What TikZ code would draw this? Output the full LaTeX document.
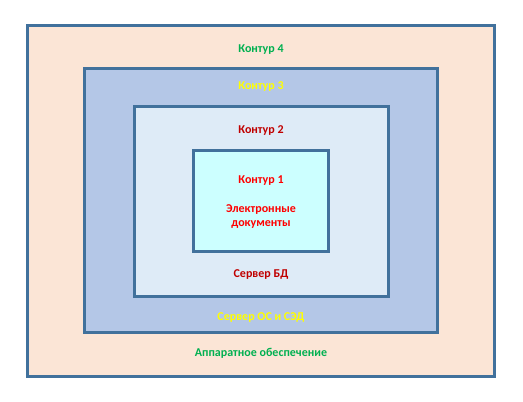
\documentclass[tikz,border=0pt]{standalone}
\usepackage{fontspec}
\setmainfont{Carlito}
\definecolor{bordc}{HTML}{41719C}
\definecolor{fillA}{HTML}{FBE5D6}
\definecolor{fillB}{HTML}{B4C7E7}
\definecolor{fillC}{HTML}{DEEBF7}
\definecolor{fillD}{HTML}{CCFFFF}
\definecolor{tgreen}{HTML}{00B050}
\definecolor{tyellow}{HTML}{FFFF00}
\definecolor{tdred}{HTML}{C00000}
\definecolor{tred}{HTML}{FF0000}
\tikzset{
  frame/.style={draw=bordc, line width=3pt},
  lbl/.style={font=\bfseries\fontsize{12}{14.5}\selectfont, inner sep=0pt, align=center}
}
\begin{document}
\begin{tikzpicture}[x=1pt,y=-1pt]
\useasboundingbox (0,0) rectangle (523,402);
\path[frame, fill=fillA] (27.5,25.5) rectangle (494,376);
\path[frame, fill=fillB] (84.5,68.5) rectangle (437,332);
\path[frame, fill=fillC] (134,106) rectangle (388,296);
\path[frame, fill=fillD] (193,150) rectangle (328.5,251);
\node[lbl, text=tgreen] (k4) at (261,49.5) {Контур 4};
\node[lbl, text=tyellow] (k3) at (261,86.5) {Контур 3};
\node[lbl, text=tdred] (k2) at (261,130.5) {Контур 2};
\node[lbl, text=tred] (k1) at (261,180.5) {Контур 1};
\node[lbl, text=tred] (ed) at (261,216.5) {Электронные\\документы};
\node[lbl, text=tdred] (sbd) at (261,274.5) {Сервер БД};
\node[lbl, text=tyellow] (sos) at (261,317.5) {Сервер ОС и СЭД};
\node[lbl, text=tgreen] (hw) at (261,353.5) {Аппаратное обеспечение};
\end{tikzpicture}
\end{document}
